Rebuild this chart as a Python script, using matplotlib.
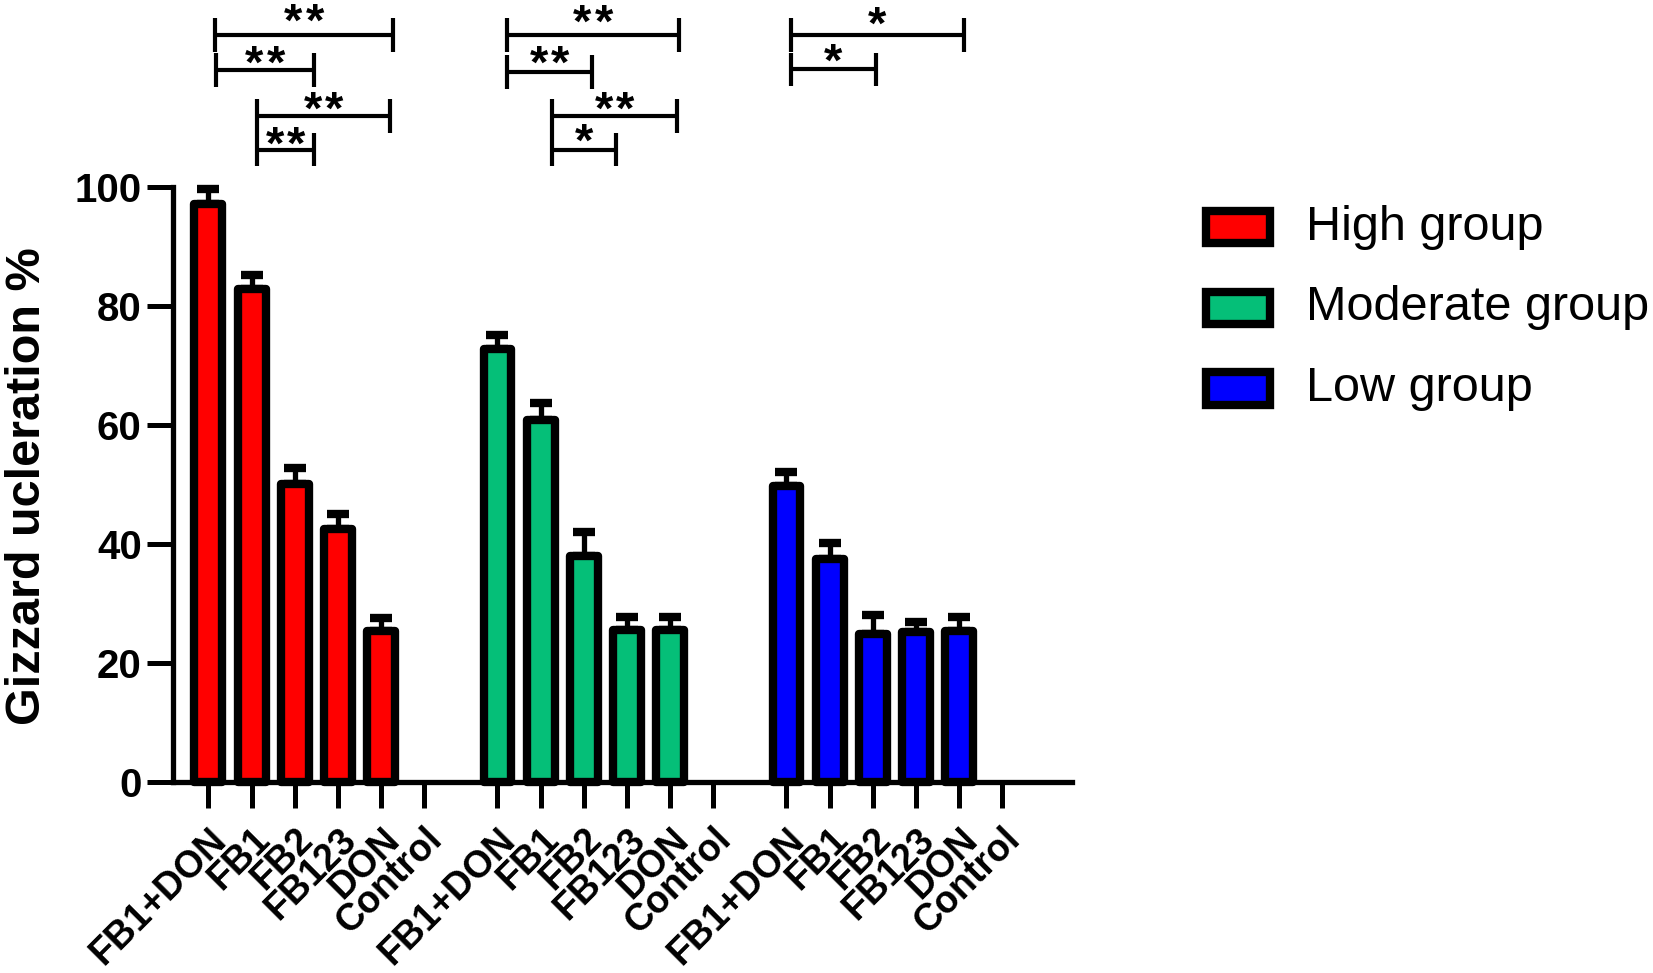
import matplotlib
matplotlib.use("Agg")
import matplotlib.pyplot as plt
from matplotlib.patches import Rectangle
import matplotlib.transforms as mtrans
import numpy as np

plt.rcParams['font.family'] = ['Liberation Sans', 'DejaVu Sans']

# ---------------- data ----------------
categories = ["FB1+DON", "FB1", "FB2", "FB123", "DON", "Control"]
groups = ["High group", "Moderate group", "Low group"]
high_vals = [97.1, 82.8, 50.0, 42.4, 25.3, 0]
high_err = [2.5, 2.3, 2.8, 2.6, 2.2, 0]
moderate_vals = [72.8, 60.8, 38.0, 25.5, 25.5, 0]
moderate_err = [2.3, 2.8, 3.9, 2.2, 2.2, 0]
low_vals = [49.7, 37.4, 24.8, 25.2, 25.4, 0]
low_err = [2.3, 2.8, 3.2, 1.7, 2.3, 0]
colors = ["#FF0000", "#05BF78", "#0000FF"]
yticks = [0, 20, 40, 60, 80, 100]

# significance brackets per group: (x_start, x_end, level, star_height, label)
# x in bar-index units inside the group, level = bracket line height (% units)
brackets = [
    [(0.15, 4.28, 125.5, 129.9, "**"), (0.17, 2.45, 119.6, 122.9, "**"),
     (1.13, 4.20, 111.9, 115.2, "**"), (1.12, 2.45, 106.2, 109.3, "**")],
    [(0.22, 4.20, 125.5, 129.8, "**"), (0.22, 2.20, 119.3, 122.9, "**"),
     (1.27, 4.15, 111.9, 115.2, "**"), (1.27, 2.74, 106.2, 109.8, "*")],
    [(0.10, 4.11, 125.5, 129.4, "*"), (0.10, 2.07, 119.7, 123.2, "*")],
]

group_step = 6.69
all_vals = [high_vals, moderate_vals, low_vals]
all_errs = [high_err, moderate_err, low_err]

fig = plt.figure(figsize=(16.53, 9.73), dpi=100)
ax = fig.add_axes([173/1653, 1-781.7/973, (1072-173)/1653, (781.7-186.7)/973])

lw_bar = 6.0
star_fs = 34
star_gap_pt = 15.5
tick_pos = []
tick_lab = []
for g, (vals, errs, col) in enumerate(zip(all_vals, all_errs, colors)):
    x = g*group_step + np.arange(len(categories))
    tick_pos.extend(x)
    tick_lab.extend(categories)
    bars = ax.bar(x, vals, width=0.645, color=col, edgecolor='black',
                  linewidth=lw_bar, zorder=3, clip_on=False)
    for b, v in zip(bars, vals):
        b.set_joinstyle('round')
        if v == 0:
            b.set_visible(False)
    mask = np.array(vals) > 0
    ax.errorbar(x[mask], np.array(vals)[mask],
                yerr=[np.zeros(mask.sum()), np.array(errs)[mask]],
                fmt='none', ecolor='black', elinewidth=3.8, capsize=8,
                capthick=6, zorder=2.5, clip_on=False)
    for (x1, x2, lev, sy, lab) in brackets[g]:
        xs1 = g*group_step + x1
        xs2 = g*group_step + x2
        h = 2.8
        ax.plot([xs1, xs2], [lev, lev], color='black', lw=3, clip_on=False,
                solid_capstyle='butt')
        ax.plot([xs1, xs1], [lev-h, lev+h], color='black', lw=3, clip_on=False,
                solid_capstyle='butt')
        ax.plot([xs2, xs2], [lev-h, lev+h], color='black', lw=3, clip_on=False,
                solid_capstyle='butt')
        n = len(lab)
        for k in range(n):
            dx = (k - (n-1)/2) * star_gap_pt
            ax.annotate("*", xy=((xs1+xs2)/2, sy), xytext=(dx, -0.58*star_fs),
                        textcoords='offset points', ha='center', va='baseline',
                        fontsize=star_fs, fontweight='bold',
                        annotation_clip=False)

ax.set_xlim(-0.82, 19.99)
ax.set_ylim(0, 100)
ax.set_yticks(yticks)
ax.set_yticklabels([str(t) for t in yticks], fontsize=29, fontweight='bold')
ax.set_xticks(tick_pos)
ax.set_xticklabels(tick_lab, fontsize=27, fontweight='bold', rotation=45,
                   ha='right', va='top', rotation_mode='anchor')
shift = mtrans.ScaledTranslation(-6/100, 3/100, fig.dpi_scale_trans)
for lbl in ax.get_xticklabels():
    lbl.set_transform(lbl.get_transform() + shift)
for s in ['top', 'right']:
    ax.spines[s].set_visible(False)
for s in ['left', 'bottom']:
    ax.spines[s].set_linewidth(3.8)
ax.tick_params(axis='both', direction='out', length=18.5, width=3.6, pad=4)
ax.tick_params(axis='x', pad=10)

fig.text(28/1653, 0.5, "Gizzard ucleration %", rotation=90, ha='center',
         va='center', fontsize=35, fontweight='bold')

# legend
rows_y = [227.3, 307.7, 388.5]
for name, col, yc in zip(groups, colors, rows_y):
    fig.add_artist(Rectangle((1206.3/1653, 1-(yc+16)/973), 63.7/1653, 32/973,
                             transform=fig.transFigure, facecolor=col,
                             edgecolor='black', linewidth=6))
    fig.text(1306/1653, 1-yc/973, name, ha='left', va='center', fontsize=35)

fig.savefig("out.png", dpi=100)
